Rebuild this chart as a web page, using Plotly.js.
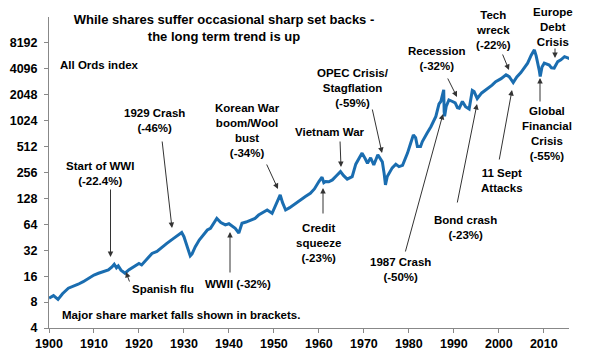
<!DOCTYPE html>
<html>
<head>
<meta charset="utf-8">
<script src="https://cdn.plot.ly/plotly-3.0.1.min.js"></script>
<style>html,body{margin:0;padding:0;background:#fff;}#chart{width:596px;height:362px;}</style>
</head>
<body>
<div id="chart"></div>
<script>
// ---- Data (All Ords index) ----
const years = [
  1900.0,1901.0,1902.0,1903.0,1904.3,1905.5,1906.5,1907.6,1908.8,1910.0,
  1911.0,1912.2,1913.2,1914.0,1914.5,1915.0,1915.4,1916.0,1916.9,1917.8,
  1918.8,1920.0,1920.6,1921.8,1922.9,1924.0,1925.1,1926.2,1927.7,1928.8,
  1929.5,1930.0,1930.7,1931.1,1931.4,1931.8,1932.5,1933.4,1934.4,1935.2,
  1935.9,1936.6,1937.3,1938.2,1939.2,1940.0,1940.7,1941.4,1942.2,1942.9,
  1943.8,1944.8,1945.8,1946.6,1947.5,1948.5,1949.6,1950.5,1951.4,1951.9,
  1952.6,1953.5,1954.4,1955.2,1955.9,1957.0,1958.1,1959.0,1960.0,1960.7,
  1961.1,1961.5,1962.2,1963.0,1963.9,1964.8,1965.5,1966.3,1967.4,1968.2,
  1969.0,1969.6,1970.3,1970.8,1971.5,1972.2,1973.1,1973.6,1974.1,1974.5,
  1974.8,1975.2,1975.6,1976.3,1977.1,1977.8,1978.6,1979.7,1980.4,1981.0,
  1981.5,1981.9,1982.6,1983.0,1984.1,1984.9,1986.0,1986.7,1987.1,1987.75,
  1987.85,1987.95,1988.3,1988.9,1989.7,1990.3,1990.8,1991.2,1991.9,1992.6,
  1993.4,1994.1,1994.5,1995.2,1996.2,1997.1,1997.8,1998.5,1999.3,2000.5,
  2001.6,2002.3,2003.2,2004.0,2004.9,2005.7,2006.4,2007.2,2007.9,2008.3,
  2008.6,2009.0,2009.2,2009.6,2010.1,2010.5,2011.2,2011.7,2012.3,2013.1,
  2013.8,2014.6,2015.3,2015.7
];
const allOrds = [
  8.9,9.5,8.6,10.0,11.6,12.2,12.9,13.8,15.1,16.5,
  17.3,18.0,18.9,20.5,22.0,20.0,21.0,18.8,17.3,19.0,
  20.7,22.5,21.6,25.5,29.4,31.0,35.0,38.5,44.0,48.0,
  51.5,46.0,35.0,29.5,27.5,29.0,35.0,42.0,48.0,55.0,
  57.6,65.0,75.0,67.0,63.0,65.0,61.0,57.6,50.6,66.0,
  68.0,72.0,75.0,82.0,87.0,94.0,86.0,110.0,141.0,115.0,
  94.0,100.0,108.0,118.0,123.0,135.0,147.0,165.0,201.0,226.0,
  195.0,201.0,200.0,210.0,235.0,262.0,235.0,214.0,229.0,320.0,
  380.0,430.0,370.0,328.0,380.0,313.0,411.0,380.0,340.0,250.0,
  184.0,230.0,251.0,290.0,320.0,300.0,310.0,430.0,560.0,700.0,
  650.0,512.0,512.0,585.0,740.0,870.0,1145.0,1600.0,1710.0,2340.0,
  1300.0,1150.0,1500.0,1785.0,1710.0,1650.0,1450.0,1430.0,1710.0,1490.0,
  1400.0,2300.0,2230.0,1850.0,2150.0,2340.0,2450.0,2650.0,2910.0,3150.0,
  3490.0,3330.0,2840.0,3300.0,3700.0,4300.0,4770.0,5900.0,6800.0,5800.0,
  5000.0,3900.0,3330.0,4300.0,4770.0,4700.0,4540.0,4200.0,4180.0,4970.0,
  5220.0,5670.0,5500.0,5400.0
];
const yTicks = [4,8,16,32,64,128,256,512,1024,2048,4096,8192];
const xTicks = [1900,1910,1920,1930,1940,1950,1960,1970,1980,1990,2000,2010];

const titleText = "While shares suffer occasional sharp set backs -<br>the long term trend is up";
const labels = [
  "Start of WWI<br>(-22.4%)", "Spanish flu", "1929 Crash<br>(-46%)", "WWII (-32%)",
  "Korean War<br>boom/Wool<br>bust<br>(-34%)", "Vietnam War", "OPEC Crisis/<br>Stagflation<br>(-59%)",
  "Credit<br>squeeze<br>(-23%)", "1987 Crash<br>(-50%)", "Bond crash<br>(-23%)", "11 Sept<br>Attacks",
  "Recession<br>(-32%)", "Tech<br>wreck<br>(-22%)", "Europe<br>Debt<br>Crisis",
  "Global<br>Financial<br>Crisis<br>(-55%)"
];

// ---- Layout helpers (pixel positions within the 596x362 page) ----
const L = 49, R = 569, T = 17, B = 328;
const px = x => (x - L) / (R - L);
const py = y => (B - y) / (B - T);
const FONT = "Liberation Sans, Arial, sans-serif";

// label centres and arrows [headX, headY, tailX, tailY]
const labelPos = [
  [100,173],[163,289],[154,120],[238,284],[247,130],[330,132],[353,88],
  [318,243],[400,269],[465,227],[502,180],[437,59],[493,30],[553,27],[547,133]
];
const arrows = [
  [110.5,257,110.5,188],[126,272,130,283],[172,228,162,140],[230,232,230,274],
  [278,189,266,163],[341,167,340,140],[382,153,372,108],[323,188,323,215],
  [443,114,405,253],[477,104,457,204],[512,90,499,161],[457,97,447,77],
  [509,70,502,53],[555,58,555,47],[540,78,540,103]
];

const annotations = [];
labels.forEach((t, i) => {
  annotations.push({
    xref: 'paper', yref: 'paper', x: px(labelPos[i][0]), y: py(labelPos[i][1]),
    xanchor: 'center', yanchor: 'middle', text: t, showarrow: false,
    font: {family: FONT, size: 11.5, color: '#000', weight: 'bold'}
  });
});
arrows.forEach(a => {
  annotations.push({
    xref: 'paper', yref: 'paper', x: px(a[0]), y: py(a[1]),
    axref: 'pixel', ayref: 'pixel', ax: a[2] - a[0], ay: a[3] - a[1],
    text: '', showarrow: true, arrowhead: 2, arrowsize: 1.1, arrowwidth: 1,
    arrowcolor: '#333', standoff: 0, startstandoff: 0
  });
});
annotations.push({
  xref: 'paper', yref: 'paper', x: px(58), y: py(65), xanchor: 'left', yanchor: 'middle',
  text: 'All Ords index', showarrow: false,
  font: {family: FONT, size: 11.5, color: '#000', weight: 'bold'}
});
annotations.push({
  xref: 'paper', yref: 'paper', x: px(60), y: py(315), xanchor: 'left', yanchor: 'middle',
  text: 'Major share market falls shown in brackets.', showarrow: false,
  font: {family: FONT, size: 11.5, color: '#000', weight: 'bold'}
});

const trace = {
  x: years, y: allOrds, type: 'scatter', mode: 'lines',
  line: {color: '#1a6db0', width: 3}, hoverinfo: 'x+y'
};

const layout = {
  width: 596, height: 362,
  margin: {l: L, r: 596 - R, t: T, b: 362 - B},
  paper_bgcolor: '#fff', plot_bgcolor: '#fff',
  showlegend: false,
  title: {
    text: titleText, xref: 'container', yref: 'container',
    x: 224 / 596, y: 1 - 24 / 362, xanchor: 'center', yanchor: 'middle',
    font: {family: FONT, size: 13, color: '#000', weight: 'bold'}
  },
  xaxis: {
    range: [1900, 2015.6], tickvals: xTicks, ticktext: xTicks.map(String),
    showgrid: false, zeroline: false, showline: true, linecolor: '#888', linewidth: 1,
    ticks: 'outside', ticklen: 4, tickcolor: '#888',
    tickfont: {family: FONT, size: 12.5, color: '#000', weight: 'bold'}
  },
  yaxis: {
    type: 'log', range: [Math.log10(4), Math.log10(16384)],
    tickvals: yTicks, ticktext: yTicks.map(String),
    showgrid: false, zeroline: false, showline: true, linecolor: '#888', linewidth: 1,
    ticks: 'outside', ticklen: 4, tickcolor: '#888', ticklabelstandoff: 4,
    tickfont: {family: FONT, size: 12.5, color: '#000', weight: 'bold'}
  },
  annotations: annotations
};

Plotly.newPlot('chart', [trace], layout, {displayModeBar: false, staticPlot: true});
</script>
</body>
</html>
